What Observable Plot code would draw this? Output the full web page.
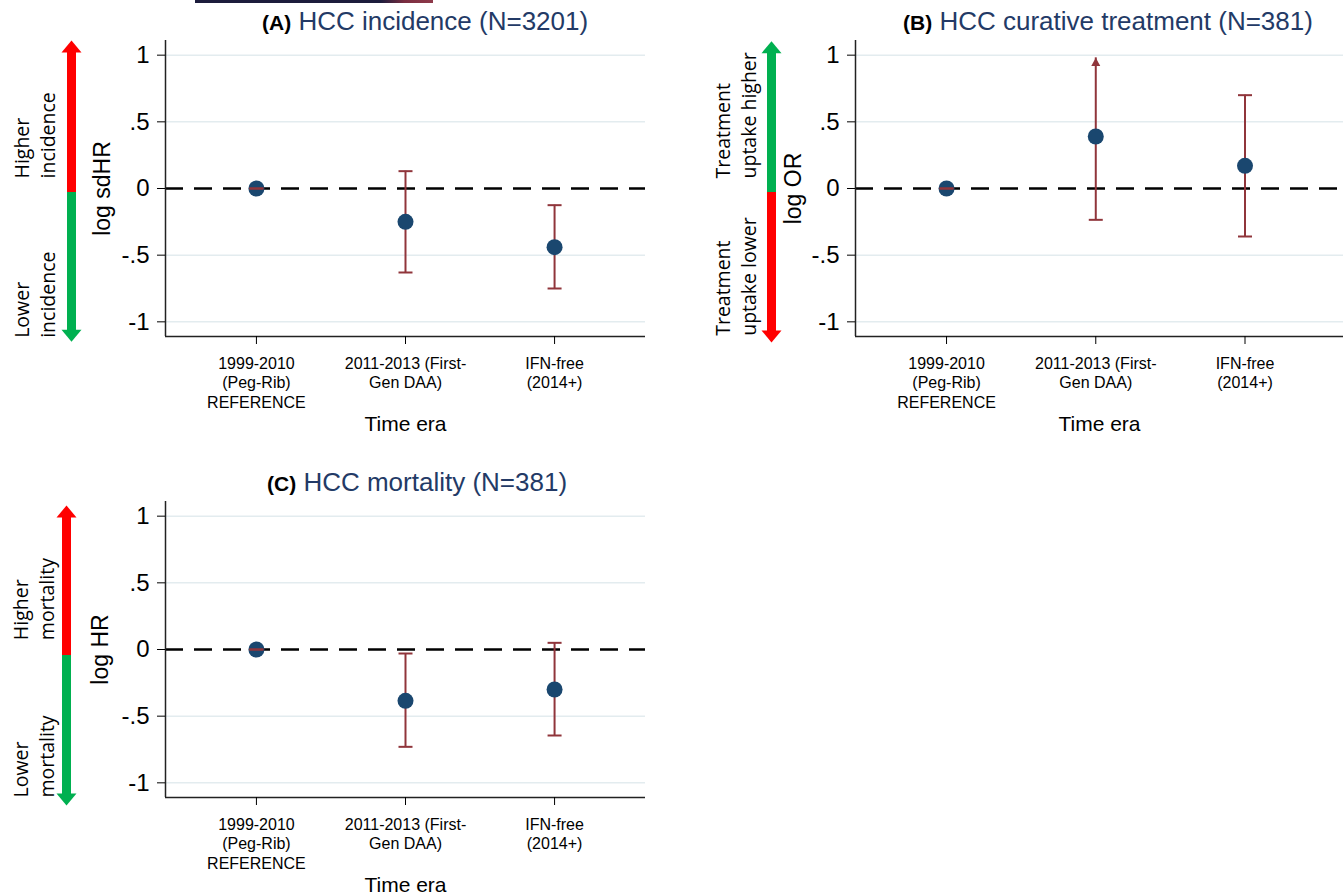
<!DOCTYPE html>
<html>
<head>
<meta charset="utf-8">
<script src="https://cdn.jsdelivr.net/npm/d3@7"></script>
<script src="https://cdn.jsdelivr.net/npm/@observablehq/plot@0.6"></script>
<style>
  html, body { margin: 0; padding: 0; background: #fff; }
  body { width: 1343px; height: 896px; position: relative; overflow: hidden; font-family: "Liberation Sans", Arial, sans-serif; }
  .panel { position: absolute; }
  .title { position: absolute; white-space: nowrap; color: #233a66; font-size: 26px; line-height: 30px; }
  .title b { color: #000; font-size: 21px; }
  #artifact { position: absolute; left: 195px; top: 0; width: 238px; height: 3px; background: linear-gradient(to right, #1c1c3c 0%, #1c1c3c 78%, #7a2d40 88%, #8e3a4a 100%); }
</style>
</head>
<body>
<div id="artifact"></div>
<div class="title" style="left:262px;top:6px"><b>(A)</b> HCC incidence (N=3201)</div>
<div class="title" style="left:903px;top:6px"><b>(B)</b> HCC curative treatment (N=381)</div>
<div class="title" style="left:267px;top:467px"><b>(C)</b> HCC mortality (N=381)</div>
<div class="panel" id="pa" style="left:0;top:0"></div>
<div class="panel" id="pb" style="left:690px;top:0"></div>
<div class="panel" id="pc" style="left:0;top:461px"></div>
<script>
// ---------- data ----------
const eras = ["1999-2010\n(Peg-Rib)\nREFERENCE", "2011-2013 (First-\nGen DAA)", "IFN-free\n(2014+)"];
const eraPositions = [1, 2, 3];
const yTicks = [-1, -0.5, 0, 0.5, 1];
const yTickLabels = ["-1", "-.5", "0", ".5", "1"];
const gridValues = [-1, -0.5, 0.5, 1];
const xAxisLabel = "Time era";

// (A) HCC incidence: log sdHR
const incidenceEst = [0, -0.25, -0.44];
const incidenceLo = [0, -0.63, -0.75];
const incidenceHi = [0, 0.13, -0.125];

// (B) HCC curative treatment: log OR (upper CI of 2nd era truncated with arrow)
const curativeEst = [0, 0.39, 0.17];
const curativeLo = [0, -0.235, -0.36];
const curativeHi = [0, 0.98, 0.70];
const curativeTruncated = [false, true, false];

// (C) HCC mortality: log HR
const mortalityEst = [0, -0.385, -0.30];
const mortalityLo = [0, -0.73, -0.645];
const mortalityHi = [0, -0.03, 0.05];

// ---------- styling ----------
const RED = "#ff0000", GREEN = "#00b050";
const DOT = "#1a476f", BAR = "#90353b";
const GRID = "#e3ecef";

const capSymbol = {
  draw(ctx, size) { const r = Math.sqrt(size / Math.PI); ctx.moveTo(-r, 0); ctx.lineTo(r, 0); }
};
function arrowSymbol(direction, ratio) {
  return {
    draw(ctx, size) {
      const r = Math.sqrt(size / Math.PI), h = r * ratio * direction;
      ctx.moveTo(0, 0); ctx.lineTo(r, h); ctx.lineTo(-r, h); ctx.closePath();
    }
  };
}

function panel(cfg) {
  const rows = eras.map((era, i) => ({
    pos: eraPositions[i], era,
    est: cfg.est[i], lo: cfg.lo[i], hi: cfg.hi[i],
    trunc: cfg.trunc ? cfg.trunc[i] : false
  }));
  const xDomain = [0.39, cfg.xMax];
  const yDomain = [-1.11, 1.11];
  const a = cfg.ann;
  const x0 = xDomain[0];
  return Plot.plot({
    width: cfg.width, height: 440,
    marginLeft: 165, marginRight: cfg.marginRight, marginTop: 40, marginBottom: 104,
    x: {domain: xDomain},
    y: {domain: yDomain},
    style: {fontFamily: "'Liberation Sans', Arial, sans-serif", color: "#000", background: "transparent", overflow: "visible"},
    marks: [
      Plot.ruleY(gridValues, {stroke: GRID, strokeWidth: 1.5}),
      Plot.ruleY([0], {stroke: "#000", strokeWidth: 2.5, strokeDasharray: "18,11"}),
      Plot.ruleX([x0], {stroke: "#222", strokeWidth: 1.5}),
      Plot.ruleY([yDomain[0]], {stroke: "#222", strokeWidth: 1.5}),
      Plot.axisY({ticks: yTicks, tickFormat: d => yTickLabels[yTicks.indexOf(d)], tickSize: 8, tickPadding: 8, fontSize: 24, label: null}),
      Plot.axisX({ticks: eraPositions, tickFormat: () => "", tickSize: 8, label: null}),
      Plot.text(rows, {x: "pos", text: "era", frameAnchor: "bottom", dy: 19, lineAnchor: "top", lineHeight: 1.2, fontSize: 16}),
      Plot.text([xAxisLabel], {frameAnchor: "bottom", dy: 88, lineAnchor: "middle", fontSize: 21}),
      Plot.text([cfg.yLabel], {frameAnchor: "left", dx: cfg.yLabelDx, rotate: -90, textAnchor: "middle", lineAnchor: "middle", fontSize: 23}),
      // side annotation arrow
      Plot.ruleX([a], {x: x0, y1: "top", y2: "split", dx: a.dx, stroke: cfg.upColor, strokeWidth: 9, insetTop: 11}),
      Plot.ruleX([a], {x: x0, y1: "split", y2: "bottom", dx: a.dx, stroke: cfg.downColor, strokeWidth: 9, insetBottom: 11}),
      Plot.dot([a], {x: x0, y: "top", dx: a.dx, symbol: arrowSymbol(1, 1.2), r: 10, fill: cfg.upColor, stroke: "none"}),
      Plot.dot([a], {x: x0, y: "bottom", dx: a.dx, symbol: arrowSymbol(-1, 1.2), r: 10, fill: cfg.downColor, stroke: "none"}),
      Plot.text([a], {frameAnchor: "left", y: "upStart", text: () => cfg.upText, dx: a.textDx, rotate: -90, textAnchor: "start", lineAnchor: "middle", lineHeight: 1.3, fontSize: 19.5, fontFamily: "'Open Sans', sans-serif"}),
      Plot.text([a], {frameAnchor: "left", y: "downStart", text: () => cfg.downText, dx: a.textDx, rotate: -90, textAnchor: "start", lineAnchor: "middle", lineHeight: 1.3, fontSize: 19.5, fontFamily: "'Open Sans', sans-serif"}),
      // estimates with confidence intervals
      Plot.ruleX(rows, {x: "pos", y1: "lo", y2: "hi", stroke: BAR, strokeWidth: 2}),
      Plot.dot(rows, {x: "pos", y: "est", r: 8, fill: DOT, stroke: "none"}),
      Plot.dot(rows, {x: "pos", y: "lo", symbol: capSymbol, r: 7, fill: "none", stroke: BAR, strokeWidth: 2}),
      Plot.dot(rows.filter(d => !d.trunc), {x: "pos", y: "hi", symbol: capSymbol, r: 7, fill: "none", stroke: BAR, strokeWidth: 2}),
      Plot.dot(rows.filter(d => d.trunc), {x: "pos", y: "hi", symbol: arrowSymbol(1, 1.8), r: 4.5, fill: BAR, stroke: "none"})
    ]
  });
}

document.getElementById("pa").append(panel({
  width: 660, marginRight: 15, xMax: 3.61,
  est: incidenceEst, lo: incidenceLo, hi: incidenceHi,
  yLabel: "log sdHR", yLabelDx: -63,
  upText: "Higher\nincidence", downText: "Lower\nincidence",
  upColor: RED, downColor: GREEN,
  ann: {top: 1.11, split: -0.03, bottom: -1.15, upStart: 0.075, downStart: -1.12, dx: -94, textDx: -131.5}
}));

document.getElementById("pb").append(panel({
  width: 653, marginRight: 0, xMax: 3.66,
  est: curativeEst, lo: curativeLo, hi: curativeHi, trunc: curativeTruncated,
  yLabel: "log OR", yLabelDx: -62,
  upText: "Treatment\nuptake higher", downText: "Treatment\nuptake lower",
  upColor: GREEN, downColor: RED,
  ann: {top: 1.105, split: -0.03, bottom: -1.155, upStart: 0.075, downStart: -1.105, dx: -84, textDx: -120.5}
}));

document.getElementById("pc").append(panel({
  width: 660, marginRight: 15, xMax: 3.61,
  est: mortalityEst, lo: mortalityLo, hi: mortalityHi,
  yLabel: "log HR", yLabelDx: -65,
  upText: "Higher\nmortality", downText: "Lower\nmortality",
  upColor: RED, downColor: GREEN,
  ann: {top: 1.08, split: -0.045, bottom: -1.17, upStart: 0.07, downStart: -1.11, dx: -99, textDx: -132.5}
}));
</script>
</body>
</html>
